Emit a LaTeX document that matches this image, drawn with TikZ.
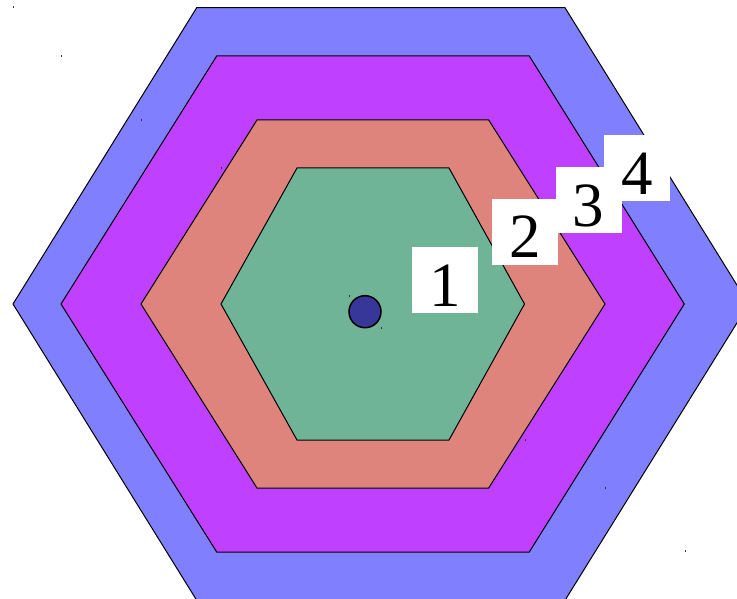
\documentclass[tikz,border=0pt]{standalone}
\usepackage{fontspec}
\setmainfont{Liberation Serif}
\definecolor{ringblue}{HTML}{8080FF}
\definecolor{ringmagenta}{HTML}{BF40FF}
\definecolor{ringsalmon}{HTML}{DE847D}
\definecolor{ringgreen}{HTML}{70B497}
\definecolor{dotblue}{HTML}{373799}
\begin{document}
\begin{tikzpicture}[x=1pt, y=-1pt,
  ring/.style={draw=black, line width=1pt, line join=miter},
  numbox/.style={fill=white, minimum width=66pt, minimum height=66pt,
                 inner sep=0pt, text height=52.6pt, text depth=0pt,
                 font=\fontsize{63}{63}\selectfont},
  speck/.style={fill=black!80}]
\useasboundingbox (0,0) rectangle (737,599);
% Hexagons, outermost first
\draw[ring, fill=ringblue] (196.7,7.7) -- (565,7.7) -- (748.7,304)
  -- (565,600.3) -- (196.7,600.3) -- (13,304) -- cycle;
\draw[ring, fill=ringmagenta] (216.7,56) -- (529.3,56) -- (684.3,304)
  -- (529.3,552) -- (216.7,552) -- (61,304) -- cycle;
\draw[ring, fill=ringsalmon] (257,120) -- (488.7,120) -- (605,304)
  -- (488.7,488) -- (257,488) -- (141,304) -- cycle;
\draw[ring, fill=ringgreen] (297,168) -- (449,168) -- (524.5,304)
  -- (449,440) -- (297,440) -- (221,304) -- cycle;
% Small corner specks
\foreach \sx/\sy in {13/7.5, 61.3/55.7, 141.3/119.7, 221.3/167.7, 349/295.7,
                     381.7/327.7, 525.7/440, 605.3/488, 685/551}
  \fill[speck] (\sx-0.5,\sy-1) rectangle (\sx+0.5,\sy+1);
% Centre dot
\draw[line width=1.5pt, fill=dotblue] (365,311.7) circle (16pt);
% Number labels
\node[numbox] (lab1) at (445,279.7) {1};
\node[numbox] (lab2) at (525.3,231.7) {2};
\node[numbox] (lab3) at (588.7,199.7) {3};
\node[numbox] (lab4) at (637,168) {4};
\end{tikzpicture}
\end{document}
